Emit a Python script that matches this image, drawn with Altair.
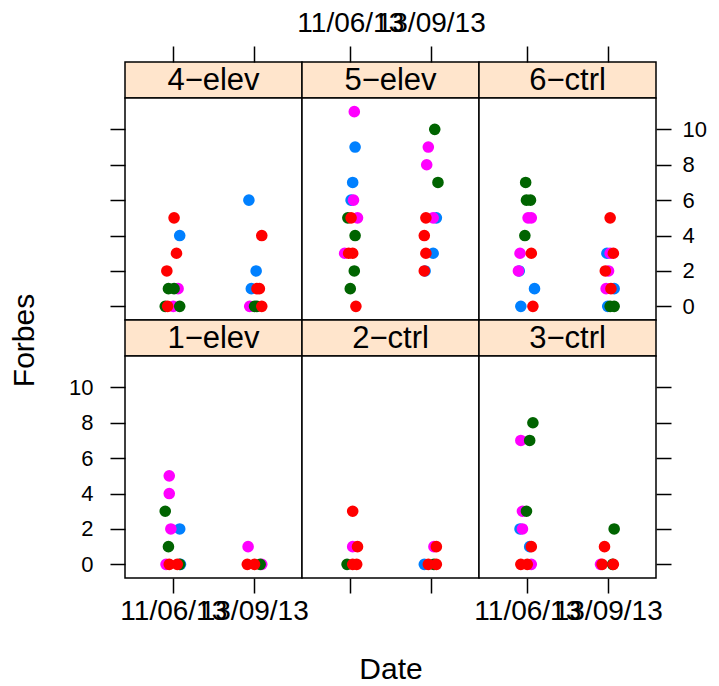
import altair as alt
import pandas as pd

FONT = "Liberation Sans"

panels_top = ["4−elev", "5−elev", "6−ctrl"]
panels_bottom = ["1−elev", "2−ctrl", "3−ctrl"]
dates = ["11/06/13", "13/09/13"]
groups = ["A", "B", "C", "D"]
group_colors = ["#0080ff", "#ff00ff", "#006400", "#ff0000"]
y_ticks = [0, 2, 4, 6, 8, 10]

# (visit, group, Forbes, jitter)
pts_4elev = [
    (1, "D", 5, 0.01), (1, "A", 4, 0.08), (1, "D", 3, 0.04), (1, "D", 2, -0.08),
    (1, "C", 1, -0.06), (1, "C", 1, 0.01), (1, "B", 1, 0.06),
    (1, "C", 0, -0.10), (1, "B", 0, 0.00), (1, "D", 0, -0.07), (1, "C", 0, 0.08),
    (2, "A", 6, -0.06), (2, "D", 4, 0.10), (2, "A", 2, 0.03),
    (2, "A", 1, -0.03), (2, "D", 1, 0.04), (2, "D", 1, 0.07),
    (2, "B", 0, -0.05), (2, "C", 0, 0.01), (2, "C", 0, 0.04), (2, "D", 0, 0.10),
]
pts_5elev = [
    (1, "B", 11, 0.05), (1, "A", 9, 0.06), (1, "A", 7, 0.03),
    (1, "A", 6, 0.01), (1, "B", 6, 0.04),
    (1, "C", 5, -0.03), (1, "D", 5, 0.01), (1, "B", 5, 0.09),
    (1, "C", 4, 0.06),
    (1, "B", 3, -0.07), (1, "D", 3, -0.02), (1, "D", 3, 0.03),
    (1, "C", 2, 0.05), (1, "C", 1, 0.00), (1, "D", 0, 0.07),
    (2, "C", 10, 0.05), (2, "B", 9, -0.03), (2, "B", 8, -0.05), (2, "C", 7, 0.09),
    (2, "A", 5, 0.07), (2, "B", 5, 0.03), (2, "D", 5, -0.06),
    (2, "D", 4, -0.08),
    (2, "A", 3, 0.03), (2, "D", 3, -0.06),
    (2, "A", 2, -0.07), (2, "D", 2, -0.08),
]
pts_6ctrl = [
    (1, "C", 7, -0.02), (1, "C", 6, -0.01), (1, "C", 6, 0.04),
    (1, "B", 5, 0.01), (1, "B", 5, 0.05), (1, "C", 4, -0.03),
    (1, "B", 3, -0.09), (1, "D", 3, 0.05),
    (1, "A", 2, -0.10), (1, "B", 2, -0.11),
    (1, "A", 1, 0.09), (1, "A", 0, -0.08), (1, "D", 0, 0.07),
    (2, "D", 5, 0.03),
    (2, "A", 3, -0.01), (2, "B", 3, 0.03), (2, "D", 3, 0.07),
    (2, "B", 2, 0.01), (2, "D", 2, -0.03),
    (2, "B", 1, -0.02), (2, "A", 1, 0.08), (2, "D", 1, 0.04),
    (2, "A", 0, 0.00), (2, "C", 0, 0.03), (2, "C", 0, 0.08),
]
pts_1elev = [
    (1, "B", 5, -0.05), (1, "B", 4, -0.05), (1, "C", 3, -0.10),
    (1, "B", 2, -0.03), (1, "A", 2, 0.08), (1, "C", 1, -0.06),
    (1, "B", 0, -0.09), (1, "A", 0, 0.09), (1, "C", 0, 0.08),
    (1, "D", 0, -0.05), (1, "D", 0, 0.05),
    (2, "B", 1, -0.07),
    (2, "B", 0, 0.10), (2, "C", 0, 0.08), (2, "D", 0, -0.08), (2, "D", 0, 0.01),
]
pts_2ctrl = [
    (1, "D", 3, 0.03), (1, "B", 1, 0.03), (1, "D", 1, 0.09),
    (1, "C", 0, -0.04), (1, "D", 0, 0.03), (1, "D", 0, 0.08),
    (2, "B", 1, 0.04), (2, "D", 1, 0.07),
    (2, "A", 0, -0.08), (2, "C", 0, 0.04), (2, "D", 0, -0.03), (2, "D", 0, 0.07),
]
pts_3ctrl = [
    (1, "C", 8, 0.07), (1, "B", 7, -0.08), (1, "C", 7, 0.03),
    (1, "B", 3, -0.06), (1, "C", 3, -0.01),
    (1, "A", 2, -0.09), (1, "B", 2, -0.06),
    (1, "A", 1, 0.03), (1, "D", 1, 0.05),
    (1, "B", 0, 0.05), (1, "D", 0, -0.08), (1, "D", 0, 0.00),
    (2, "C", 2, 0.08), (2, "D", 1, -0.04),
    (2, "B", 0, -0.09), (2, "D", 0, -0.07), (2, "C", 0, 0.06), (2, "D", 0, 0.07),
]

panel_points = {
    "4−elev": pts_4elev, "5−elev": pts_5elev, "6−ctrl": pts_6ctrl,
    "1−elev": pts_1elev, "2−ctrl": pts_2ctrl, "3−ctrl": pts_3ctrl,
}

PW, PH, SH = 177, 222, 36
STRIP_FILL = "#ffe5cc"
TICK = 15
label_expr = "[" + ",".join("'%s'" % d for d in dates) + "][datum.value - 1]"


def frame(fill):
    return alt.ViewBackground(fill=fill, stroke="black", strokeWidth=1.5)


def x_axis(orient, show_labels, title=""):
    kw = dict(orient=orient, values=[1, 2], labels=show_labels,
              tickSize=16 if orient == "top" else TICK,
              labelExpr=label_expr, labelOverlap=False, labelFlush=False,
              labelBound=False, labelPadding=9 if orient == "top" else 4,
              labelFontSize=28, domain=False, grid=False, title=title)
    if title:
        kw.update(titlePadding=61, titleFontSize=30, titleFont=FONT,
                  titleFontWeight="normal", titleColor="black")
    return alt.Axis(**kw)


def y_axis(orient, show_labels, title=""):
    kw = dict(orient=orient, values=y_ticks, labels=show_labels, tickSize=TICK,
              labelPadding=17 if orient == "left" else 11,
              labelFontSize=22, domain=False, grid=False, title=title)
    if title:
        kw.update(titleX=-92, titleY=-16, titleAngle=270, titleAlign="center",
                  titleBaseline="alphabetic", titleFontSize=30, titleFont=FONT,
                  titleFontWeight="normal", titleColor="black")
    return alt.Axis(**kw)


xscale = alt.Scale(domain=[0.4, 2.6], nice=False, zero=False)
yscale = alt.Scale(domain=[-0.77, 11.77], nice=False, zero=False)


def strip(name, row, col):
    df = pd.DataFrame({"label": [name], "xc": [1.5]})
    if row == 0:
        xenc = alt.X("xc:Q", scale=xscale, axis=x_axis("top", col == 1))
    else:
        xenc = alt.X("xc:Q", scale=xscale, axis=None)
    return alt.Chart(df).mark_text(font=FONT, fontSize=31, color="black",
                                   baseline="middle").encode(
        x=xenc, y=alt.value(SH / 2 + 1), text="label:N"
    ).properties(width=PW, height=SH, view=frame(STRIP_FILL))


def plot(name, row, col):
    recs = [dict(visit=v, group=g, forbes=f, jit=j, gorder=groups.index(g))
            for (v, g, f, j) in panel_points[name]]
    df = pd.DataFrame(recs)
    if row == 1:
        xax = x_axis("bottom", col != 1, "Date" if col == 1 else "")
        xenc = alt.X("xpos:Q", scale=xscale, axis=xax)
    else:
        xenc = alt.X("xpos:Q", scale=xscale, axis=None)
    if col == 0:
        yenc = alt.Y("forbes:Q", scale=yscale,
                     axis=y_axis("left", row == 1, "Forbes" if row == 1 else ""))
    elif col == 2:
        yenc = alt.Y("forbes:Q", scale=yscale, axis=y_axis("right", row == 0))
    else:
        yenc = alt.Y("forbes:Q", scale=yscale, axis=None)
    return alt.Chart(df).transform_calculate(
        xpos="datum.visit + datum.jit"
    ).mark_circle(size=135, opacity=1).encode(
        x=xenc, y=yenc,
        color=alt.Color("group:N", scale=alt.Scale(domain=groups, range=group_colors), legend=None),
        order=alt.Order("gorder:Q"),
    ).properties(width=PW, height=PH, view=frame("white"))


cells = []
for row, names in enumerate([panels_top, panels_bottom]):
    cells += [strip(n, row, c) for c, n in enumerate(names)]
    cells += [plot(n, row, c) for c, n in enumerate(names)]

chart = alt.concat(*cells, columns=3, spacing=0).properties(
    align="each",
    bounds="flush",
    padding={"left": 8, "top": 8, "right": 5, "bottom": 5},
    background="white",
).configure_axis(
    labelFont=FONT, labelColor="black",
    tickColor="black", tickWidth=1.5,
).configure_view(stroke="black")

chart.save("out.html", embed_options={"renderer": "svg", "actions": False})
